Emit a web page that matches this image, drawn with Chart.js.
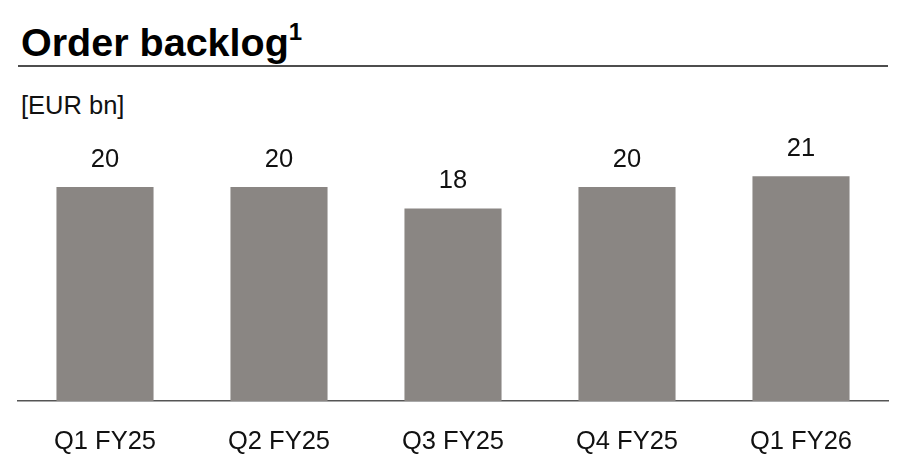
<!DOCTYPE html>
<html>
<head>
<meta charset="utf-8">
<script src="https://cdn.jsdelivr.net/npm/chart.js@4"></script>
<style>
  html, body { margin: 0; padding: 0; background: #fff; }
  body { width: 908px; height: 472px; position: relative; overflow: hidden; font-family: "Liberation Sans", Arial, sans-serif; }
  #title { position: absolute; left: 21px; top: 11px; font-size: 39.5px; font-weight: bold; color: #000; line-height: 46px; white-space: nowrap; }
  #title sup { font-size: 24px; position: relative; top: -2px; }
  #rule { position: absolute; left: 18px; top: 65px; width: 870px; height: 2px; background: #4d4d4d; }
  #unit { position: absolute; left: 21px; top: 90px; font-size: 25.5px; color: #111; line-height: 30px; }
  #chartBox { position: absolute; left: 0; top: 0; width: 908px; height: 472px; }
</style>
</head>
<body>
<div id="title">Order backlog<sup>1</sup></div>
<div id="rule"></div>
<div id="unit">[EUR bn]</div>
<div id="chartBox"><canvas id="backlogChart"></canvas></div>
<script>
const quarters = ['Q1 FY25', 'Q2 FY25', 'Q3 FY25', 'Q4 FY25', 'Q1 FY26'];
const backlog = [20, 20, 18, 20, 21];
const barColour = '#8a8683';

// draws the value above each bar
const valueLabels = {
    id: 'valueLabels',
    afterDatasetsDraw(chart) {
        const ctx = chart.ctx;
        const meta = chart.getDatasetMeta(0);
        ctx.save();
        ctx.font = '25.5px "Liberation Sans", Arial, sans-serif';
        ctx.fillStyle = '#111';
        ctx.textAlign = 'center';
        ctx.textBaseline = 'alphabetic';
        meta.data.forEach((bar, i) => {
            ctx.fillText(String(backlog[i]), bar.x, bar.y - 20.5);
        });
        ctx.restore();
    },
};

const ctx = document.querySelector('#backlogChart').getContext('2d');
new Chart(ctx, {
    type: 'bar',
    data: {
        labels: quarters,
        datasets: [{
            data: backlog,
            backgroundColor: barColour,
            barPercentage: 0.558,
            categoryPercentage: 1,
        }],
    },
    options: {
        responsive: true,
        maintainAspectRatio: false,
        animation: false,
        layout: {
            padding: { left: 18, right: 20, top: 80, bottom: 0 },
        },
        plugins: {
            legend: { display: false },
            tooltip: { enabled: false },
        },
        scales: {
            x: {
                grid: { display: false, drawTicks: false },
                border: { display: true, color: '#555', width: 1.5 },
                ticks: {
                    color: '#111',
                    padding: 26,
                    font: { family: '"Liberation Sans", Arial, sans-serif', size: 25.5 },
                    maxRotation: 0,
                },
                afterFit: (scale) => { scale.height = 71; },
            },
            y: {
                display: false,
                min: 0,
                max: 30,
            },
        },
    },
    plugins: [valueLabels],
});
</script>
</body>
</html>
